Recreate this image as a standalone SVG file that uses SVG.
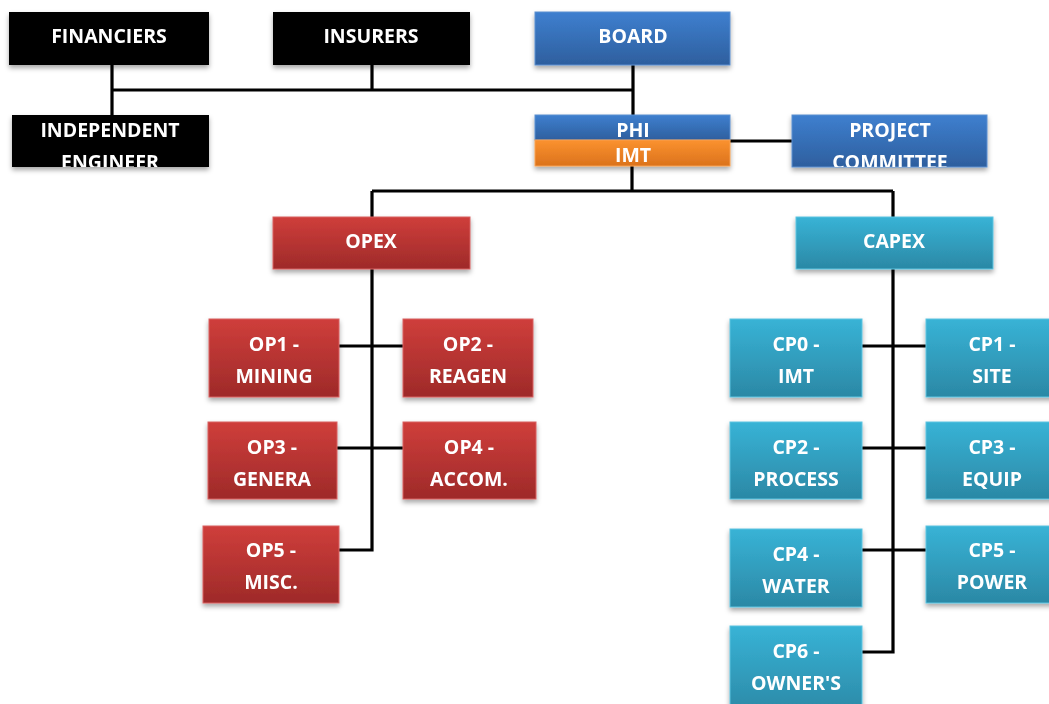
<svg xmlns="http://www.w3.org/2000/svg" width="1049" height="704" viewBox="0 0 1049 704">
<style>
text{font-family:"Open Sans","DejaVu Sans",sans-serif;font-weight:bold;font-size:19.5px;fill:#fff;text-anchor:middle}
.ln{stroke:#000;stroke-width:3.2;fill:none}
.blk{fill:#000}
.blue{fill:url(#gBlue);stroke:#5a8fd0;stroke-width:1}
.org{fill:url(#gOrg);stroke:#f8a050;stroke-width:1}
.red{fill:url(#gRed);stroke:#d86060;stroke-width:1}
.cyan{fill:url(#gCyan);stroke:#5cc4e0;stroke-width:1}
.nd{filter:url(#sh)}
</style>
<defs>
<linearGradient id="gBlue" x1="0" y1="0" x2="0" y2="1"><stop offset="0" stop-color="#3e7fcf"/><stop offset="1" stop-color="#2e5f9e"/></linearGradient>
<linearGradient id="gOrg" x1="0" y1="0" x2="0" y2="1"><stop offset="0" stop-color="#fb922f"/><stop offset="1" stop-color="#db721c"/></linearGradient>
<linearGradient id="gRed" x1="0" y1="0" x2="0" y2="1"><stop offset="0" stop-color="#cf3e3b"/><stop offset="1" stop-color="#9e2a29"/></linearGradient>
<linearGradient id="gCyan" x1="0" y1="0" x2="0" y2="1"><stop offset="0" stop-color="#38b3d6"/><stop offset="1" stop-color="#2b88a5"/></linearGradient>
<filter id="sh" x="-10%" y="-20%" width="120%" height="150%"><feDropShadow dx="0" dy="3" stdDeviation="2.5" flood-color="#000" flood-opacity="0.35"/></filter>
<clipPath id="cIE"><rect x="12" y="115" width="197" height="52"/></clipPath>
<clipPath id="cPC"><rect x="792" y="115" width="195" height="52"/></clipPath>
</defs>
<g id="connectors">
<path class="ln" d="M112 65V115M112 90H633M372 65V90M633 65V115"/>
<path class="ln" d="M730 141H792"/>
<path class="ln" d="M632 166V191M372 191H893M372 191V217M893 191V217"/>
<path class="ln" d="M372 269V550H339M339 346H403M337 448H403"/>
<path class="ln" d="M893 269V652H862M862 346H926M862 448H926M862 550H926"/>
</g>
<g id="financiers" class="nd"><rect class="blk" x="9" y="12" width="200" height="53"/><text x="109" y="43">FINANCIERS</text></g>
<g id="insurers" class="nd"><rect class="blk" x="273" y="12" width="197" height="53"/><text x="371" y="43">INSURERS</text></g>
<g id="board" class="nd"><rect class="blue" x="535" y="12" width="195" height="53"/><text x="633" y="43">BOARD</text></g>
<g id="independent-engineer" class="nd"><rect class="blk" x="12" y="115" width="197" height="52"/><g clip-path="url(#cIE)"><text x="110" y="137">INDEPENDENT</text><text x="110" y="169">ENGINEER</text></g></g>
<g id="phi-imt" class="nd"><rect class="blue" x="535" y="115" width="195" height="25"/><rect class="org" x="535" y="140" width="195" height="26"/><text x="633" y="137">PHI</text><text x="633" y="162">IMT</text></g>
<g id="project-committee" class="nd"><rect class="blue" x="792" y="115" width="195" height="52"/><g clip-path="url(#cPC)"><text x="890" y="137">PROJECT</text><text x="890" y="169">COMMITTEE</text></g></g>
<g id="opex" class="nd"><rect class="red" x="273" y="217" width="197" height="52"/><text x="371" y="248">OPEX</text></g>
<g id="capex" class="nd"><rect class="cyan" x="796" y="217" width="197" height="52"/><text x="894" y="248">CAPEX</text></g>
<g id="op1" class="nd"><rect class="red" x="209" y="319" width="130" height="78"/><text x="274" y="351">OP1 -</text><text x="274" y="383">MINING</text></g>
<g id="op2" class="nd"><rect class="red" x="403" y="319" width="130" height="78"/><text x="468" y="351">OP2 -</text><text x="468" y="383">REAGEN</text></g>
<g id="op3" class="nd"><rect class="red" x="208" y="422" width="129" height="77"/><text x="272" y="454">OP3 -</text><text x="272" y="486">GENERA</text></g>
<g id="op4" class="nd"><rect class="red" x="403" y="422" width="133" height="77"/><text x="469" y="454">OP4 -</text><text x="469" y="486">ACCOM.</text></g>
<g id="op5" class="nd"><rect class="red" x="203" y="526" width="136" height="77"/><text x="271" y="557">OP5 -</text><text x="271" y="589">MISC.</text></g>
<g id="cp0" class="nd"><rect class="cyan" x="730" y="319" width="132" height="78"/><text x="796" y="351">CP0 -</text><text x="796" y="383">IMT</text></g>
<g id="cp1" class="nd"><rect class="cyan" x="926" y="319" width="132" height="78"/><text x="992" y="351">CP1 -</text><text x="992" y="383">SITE</text></g>
<g id="cp2" class="nd"><rect class="cyan" x="730" y="422" width="132" height="77"/><text x="796" y="454">CP2 -</text><text x="796" y="486">PROCESS</text></g>
<g id="cp3" class="nd"><rect class="cyan" x="926" y="422" width="132" height="77"/><text x="992" y="454">CP3 -</text><text x="992" y="486">EQUIP</text></g>
<g id="cp4" class="nd"><rect class="cyan" x="730" y="529" width="132" height="78"/><text x="796" y="561">CP4 -</text><text x="796" y="593">WATER</text></g>
<g id="cp5" class="nd"><rect class="cyan" x="926" y="526" width="132" height="77"/><text x="992" y="557">CP5 -</text><text x="992" y="589">POWER</text></g>
<g id="cp6" class="nd"><rect class="cyan" x="730" y="626" width="132" height="90"/><text x="796" y="658">CP6 -</text><text x="796" y="690">OWNER'S</text></g>
</svg>
